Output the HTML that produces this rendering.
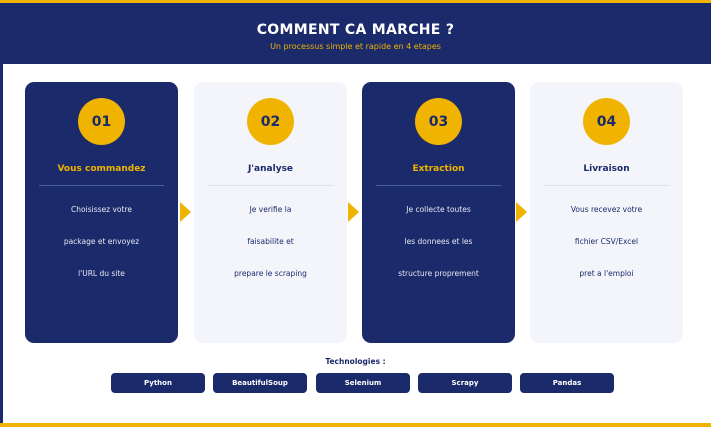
<!DOCTYPE html>
<html><head><meta charset="utf-8"><style>
*{margin:0;padding:0;box-sizing:border-box}
body{width:711px;height:427px;position:relative;background:#fff;font-family:"DejaVu Sans","Liberation Sans",sans-serif;overflow:hidden}
.a{position:absolute}
.c{position:absolute;top:82px;width:153px;height:261px;border-radius:9px}
.d{background:#1b2a6b}.l{background:#f4f5fb}
.n{position:absolute;left:53px;top:16px;width:47px;height:47px;border-radius:50%;background:#f0b400;color:#1b2a6b;font-weight:bold;font-size:14px;text-align:center;line-height:48px}
.t{position:absolute;left:0;width:100%;top:82px;text-align:center;font-weight:bold;font-size:9px}
.hr{position:absolute;left:14px;right:14px;top:103px;height:1px}
.d .t{color:#f0b400}.l .t{color:#1b2a6b}
.d .hr{background:#4a5aa0}.l .hr{background:#dde0ea}
.x{position:absolute;left:0;width:100%;text-align:center;font-size:7.5px}
.d .x{color:#e6e8f2}.l .x{color:#1b2a6b}
.ar{position:absolute;top:202px;width:0;height:0;border-top:10px solid transparent;border-bottom:10px solid transparent;border-left:11px solid #f0b400}
.p{position:absolute;top:373px;width:94px;height:20px;border-radius:4px;background:#1b2a6b;color:#fff;font-size:7px;font-weight:bold;text-align:center;line-height:20px}
</style></head><body>
<div class="a" style="left:0;top:0;width:711px;height:3px;background:#f0b400"></div>
<div class="a" style="left:0;top:3px;width:711px;height:61px;background:#1b2a6b"></div>
<div class="a" style="left:0;top:64px;width:3px;height:363px;background:#1b2a6b"></div>
<div class="a" style="left:0;top:423px;width:711px;height:4px;background:#f0b400"></div>
<div class="a" style="left:0;width:711px;top:22px;text-align:center;color:#fff;font-weight:bold;font-size:14px;letter-spacing:0.3px">COMMENT CA MARCHE ?</div>
<div class="a" style="left:0;width:711px;top:42px;text-align:center;color:#f0b400;font-size:8px">Un processus simple et rapide en 4 etapes</div>

<div class="c d" style="left:25px"><div class="n">01</div><div class="t">Vous commandez</div><div class="hr"></div>
<div class="x" style="top:123px">Choisissez votre</div><div class="x" style="top:155px">package et envoyez</div><div class="x" style="top:187px">l'URL du site</div></div>
<div class="c l" style="left:194px"><div class="n">02</div><div class="t">J'analyse</div><div class="hr"></div>
<div class="x" style="top:123px">Je verifie la</div><div class="x" style="top:155px">faisabilite et</div><div class="x" style="top:187px">prepare le scraping</div></div>
<div class="c d" style="left:362px"><div class="n">03</div><div class="t">Extraction</div><div class="hr"></div>
<div class="x" style="top:123px">Je collecte toutes</div><div class="x" style="top:155px">les donnees et les</div><div class="x" style="top:187px">structure proprement</div></div>
<div class="c l" style="left:530px"><div class="n">04</div><div class="t">Livraison</div><div class="hr"></div>
<div class="x" style="top:123px">Vous recevez votre</div><div class="x" style="top:155px">fichier CSV/Excel</div><div class="x" style="top:187px">pret a l'emploi</div></div>
<div class="ar" style="left:180px"></div><div class="ar" style="left:348px"></div><div class="ar" style="left:516px"></div>

<div class="a" style="left:0;width:711px;top:357px;text-align:center;color:#1b2a6b;font-weight:bold;font-size:7.5px">Technologies :</div>
<div class="p" style="left:111px">Python</div><div class="p" style="left:213px">BeautifulSoup</div><div class="p" style="left:316px">Selenium</div><div class="p" style="left:418px">Scrapy</div><div class="p" style="left:520px">Pandas</div>
</body></html>
